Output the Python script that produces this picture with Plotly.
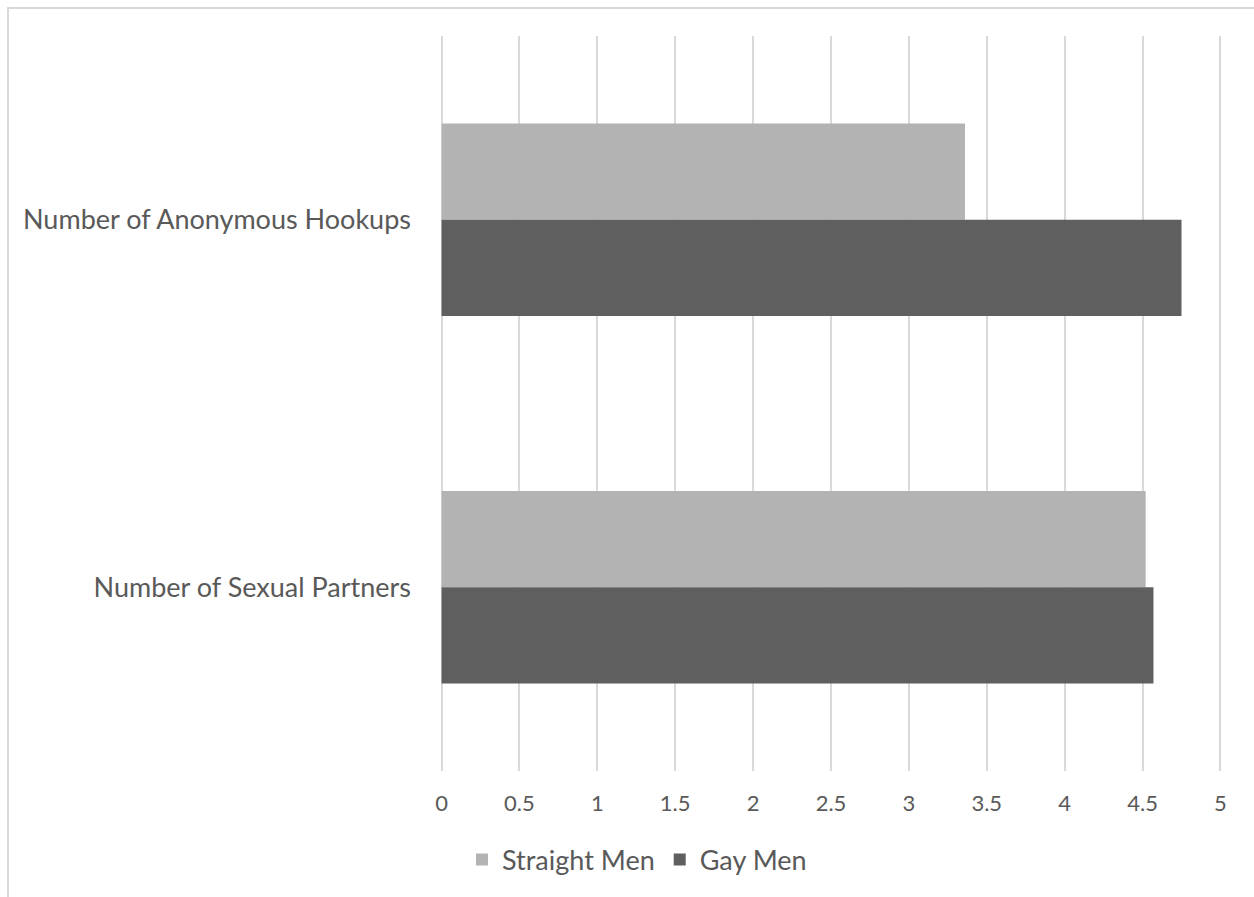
import plotly.graph_objects as go

# Survey averages by group
categories = ["Number of Anonymous Hookups", "Number of Sexual Partners"]
straight_men = [3.36, 4.52]
gay_men = [4.75, 4.57]
series_names = ["Straight Men", "Gay Men"]
x_ticks = [0, 0.5, 1, 1.5, 2, 2.5, 3, 3.5, 4, 4.5, 5]
x_tick_labels = ["0", "0.5", "1", "1.5", "2", "2.5", "3", "3.5", "4", "4.5", "5"]

W, H = 1254, 897
L, R, T, B = 440, 32, 36, 126
PW, PH = W - L - R, H - T - B


def px_x(p):
    return (p - L) / PW


def px_y(p):
    return 1 - (p - T) / PH


TEXT = "#595959"
FONT = "Lato, 'Open Sans', sans-serif"

fig = go.Figure()
fig.add_trace(go.Bar(
    y=categories, x=straight_men, name=series_names[0], orientation="h",
    marker=dict(color="#b3b3b3", line=dict(width=0)),
))
fig.add_trace(go.Bar(
    y=categories, x=gay_men, name=series_names[1], orientation="h",
    marker=dict(color="#5f5f5f", line=dict(width=0)),
))

fig.update_layout(
    width=W, height=H,
    margin=dict(l=L, r=R, t=T, b=B, autoexpand=False),
    paper_bgcolor="white", plot_bgcolor="white",
    barmode="group", bargap=0.476, bargroupgap=0,
    font=dict(family=FONT, color=TEXT),
    showlegend=True,
    legend=dict(
        orientation="h", x=px_x(637), xanchor="center",
        y=px_y(860), yanchor="middle",
        font=dict(size=27, color=TEXT, family=FONT),
        itemwidth=30, traceorder="normal",
    ),
    xaxis=dict(
        range=[-0.01, 5.01], tickvals=x_ticks, ticktext=x_tick_labels,
        showgrid=True, gridcolor="#d9d9d9", gridwidth=1.5,
        zeroline=False, showline=False, ticks="",
        tickfont=dict(size=22, color=TEXT, family=FONT),
        ticklabelstandoff=17,
    ),
    yaxis=dict(
        autorange="reversed", showgrid=False, zeroline=False,
        showline=False, ticks="",
        tickfont=dict(size=27, color=TEXT, family=FONT),
        ticklabelstandoff=28,
    ),
    shapes=[dict(
        type="rect", xref="paper", yref="paper",
        x0=px_x(8), x1=px_x(W + 20), y0=px_y(8), y1=px_y(H + 20),
        line=dict(color="#d9d9d9", width=2), fillcolor="rgba(0,0,0,0)",
        layer="below",
    )],
)

fig.write_html("out.html")
